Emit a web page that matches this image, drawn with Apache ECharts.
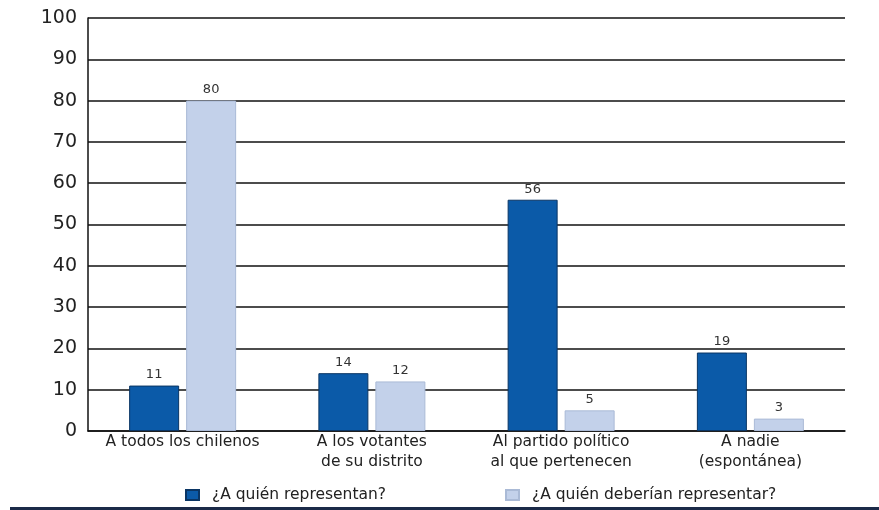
<!DOCTYPE html>
<html><head><meta charset="utf-8">
<script src="https://cdn.jsdelivr.net/npm/echarts@6/dist/echarts.min.js"></script>
<style>html,body{margin:0;padding:0;background:#fff}#c{width:879px;height:510px}</style>
</head><body><div id="c"></div>
<script>
const categories = ["A todos los chilenos", "A los votantes\nde su distrito", "Al partido político\nal que pertenecen", "A nadie\n(espontánea)"];
const seriesNames = ["¿A quién representan?", "¿A quién deberían representar?"];
const representan = [11, 14, 56, 19];
const deberian = [80, 12, 5, 3];

const chart = echarts.init(document.getElementById('c'));
const font = "'DejaVu Sans', sans-serif";
const legendText = {fontFamily: font, fontSize: 15.5, color: '#222', padding: [0, 0, 0, 8]};
chart.setOption({
  animation: false,
  backgroundColor: '#fff',
  grid: {left: 88, right: 34, top: 18, bottom: 79},
  legend: [
    {top: 482, left: 180, icon: 'rect', itemWidth: 13, itemHeight: 10, textStyle: legendText, data: [seriesNames[0]]},
    {top: 482, left: 500, icon: 'rect', itemWidth: 13, itemHeight: 10, textStyle: legendText, data: [seriesNames[1]]}
  ],
  xAxis: {
    type: 'category', data: categories,
    axisLine: {lineStyle: {color: '#111', width: 1.5}},
    axisTick: {inside: true, length: 7, lineStyle: {color: '#111', width: 1.5}},
    axisLabel: {interval: 0, fontFamily: font, fontSize: 15.5, color: '#222', margin: 1, lineHeight: 20}
  },
  yAxis: {
    type: 'value', min: 0, max: 100, interval: 10,
    axisLine: {show: true, lineStyle: {color: '#111', width: 1.5}},
    axisTick: {show: false},
    splitLine: {lineStyle: {color: '#111', width: 1.5}},
    axisLabel: {fontFamily: font, fontSize: 19, color: '#222', margin: 11}
  },
  series: [
    {name: seriesNames[0], type: 'bar', data: representan, barWidth: 50, barGap: '14%',
     itemStyle: {color: '#0b5aa8', borderColor: '#0a3564', borderWidth: 1},
     label: {show: true, position: 'top', distance: 4, fontFamily: font, fontSize: 13, color: '#333'}},
    {name: seriesNames[1], type: 'bar', data: deberian, barWidth: 50,
     itemStyle: {color: '#c3d1ea', borderColor: '#aabad6', borderWidth: 1},
     label: {show: true, position: 'top', distance: 4, fontFamily: font, fontSize: 13, color: '#333'}}
  ],
  graphic: [{type: 'rect', shape: {x: 10, y: 507, width: 869, height: 3}, style: {fill: '#1b2a48'}}]
});
</script></body></html>
